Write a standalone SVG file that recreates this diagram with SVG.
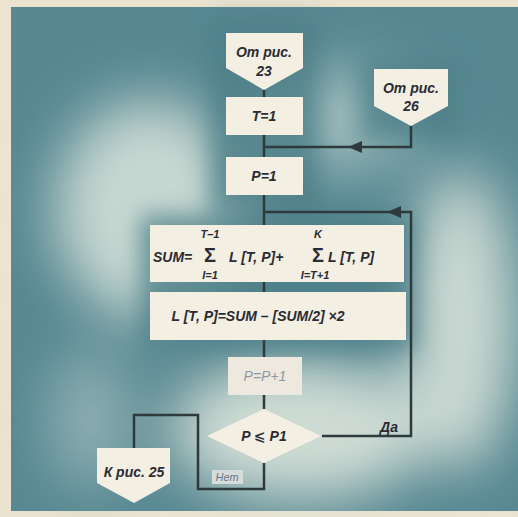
<svg xmlns="http://www.w3.org/2000/svg" width="518" height="517" viewBox="0 0 518 517">
  <defs>
    <filter id="soft" x="-50%" y="-50%" width="200%" height="200%">
      <feGaussianBlur stdDeviation="28"/>
    </filter>
    <filter id="halo" x="-50%" y="-50%" width="200%" height="200%">
      <feGaussianBlur stdDeviation="12"/>
    </filter>
    <marker id="arr" viewBox="0 0 14 12" refX="14" refY="6" markerWidth="14" markerHeight="12" markerUnits="userSpaceOnUse" orient="auto">
      <path d="M0,0 L14,6 L0,12 Z" fill="#2e3a3c"/>
    </marker>
    <style>
      .box { fill: #f3f0e3; }
      .wire { fill: none; stroke: #2e3a3c; stroke-width: 2.5; }
      .t { font-family: "Liberation Sans", "DejaVu Sans", sans-serif; font-style: italic; font-weight: bold; font-size: 14px; fill: #2b2b33; text-anchor: middle; }
      .s { font-size: 11px; }
      .sig { font-style: normal; font-weight: bold; font-size: 20px; }
      .faded { fill: #8d98a6; font-weight: normal; }
    </style>
  </defs>

  <!-- paper and airbrushed panel -->
  <rect width="518" height="517" fill="#ece4d0"/>
  <rect x="11" y="7" width="507" height="504" fill="#578892"/>
  <g filter="url(#soft)">
    <ellipse cx="150" cy="210" rx="95" ry="110" fill="#c7d8d2"/>
    <ellipse cx="300" cy="430" rx="130" ry="70" fill="#cfdcd4"/>
    <ellipse cx="460" cy="320" rx="55" ry="150" fill="#cbd9d2"/>
    <ellipse cx="330" cy="120" rx="90" ry="50" fill="#9dbcbc"/>
    <ellipse cx="90" cy="420" rx="40" ry="70" fill="#8fb0b2"/>
  </g>
  <g filter="url(#halo)" fill="#4e7f88" opacity="0.8">
    <rect x="210" y="20" width="110" height="190"/>
    <rect x="140" y="215" width="275" height="135"/>
    <rect x="360" y="60" width="100" height="80"/>
  </g>

  <!-- connectors -->
  <g id="connectors">
    <path class="wire" d="M264,90 V97 M264,135 V157 M264,195 V225 M264,282 V292 M264,340 V357 M264,395 V409"/>
    <path class="wire" d="M411,126 V147 H348" marker-end="url(#arr)"/>
    <path class="wire" d="M348,147 H264"/>
    <path class="wire" d="M322,436 H411 V212 H387" marker-end="url(#arr)"/>
    <path class="wire" d="M387,212 H264"/>
    <path class="wire" d="M264,463 V489 H198 V415 H134 V448"/>
  </g>

  <g id="from23">
    <polygon class="box" points="226,33 303,33 303,68 264,90 226,68"/>
    <text class="t" x="264" y="57">От рис.</text>
    <text class="t" x="264" y="76">23</text>
  </g>

  <g id="from26">
    <polygon class="box" points="374,69 448,69 448,106 411,126 374,106"/>
    <text class="t" x="411" y="93">От рис.</text>
    <text class="t" x="411" y="111">26</text>
  </g>

  <g id="t1">
    <rect class="box" x="226" y="97" width="77" height="38"/>
    <text class="t" x="264" y="121">T=1</text>
  </g>

  <g id="p1">
    <rect class="box" x="226" y="157" width="77" height="38"/>
    <text class="t" x="264" y="181">P=1</text>
  </g>

  <g id="sum">
    <rect class="box" x="150" y="225" width="254" height="57"/>
    <text class="t" x="153" y="262" style="text-anchor:start">SUM=</text>
    <text class="t s" x="210" y="238">T–1</text>
    <text class="t sig" x="210" y="262">Σ</text>
    <text class="t s" x="210" y="279">I=1</text>
    <text class="t" x="229" y="262" style="text-anchor:start">L [T, P]+</text>
    <text class="t s" x="318" y="238">K</text>
    <text class="t sig" x="318" y="262">Σ</text>
    <text class="t s" x="315" y="279">I=T+1</text>
    <text class="t" x="328" y="262" style="text-anchor:start">L [T, P]</text>
  </g>

  <g id="parity">
    <rect class="box" x="150" y="292" width="256" height="48"/>
    <text class="t" x="258" y="321">L [T, P]=SUM – [SUM/2] ×2</text>
  </g>

  <g id="inc">
    <rect x="228" y="357" width="74" height="38" fill="#ede9de"/>
    <text class="t faded" x="265" y="381">P=P+1</text>
  </g>

  <g id="test">
    <polygon class="box" points="264,409 321,436 264,463 207,436"/>
    <text class="t" x="264" y="441">P ⩽ P1</text>
    <text class="t" x="389" y="432">Да</text>
  </g>

  <g id="no-label">
    <rect x="212" y="470" width="31" height="14" fill="#d6dcd8"/>
    <text class="t faded" x="227" y="481" style="font-size:11px;fill:#6f7690">Нет</text>
  </g>

  <g id="to25">
    <polygon class="box" points="97,448 170,448 170,483 134,503 97,483"/>
    <text class="t" x="134" y="477">К рис. 25</text>
  </g>
</svg>
